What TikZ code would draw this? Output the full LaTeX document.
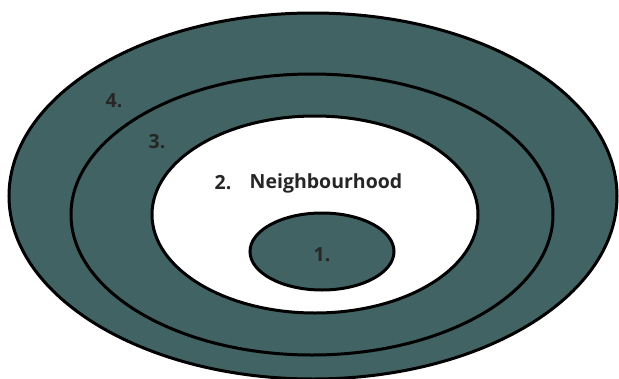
\documentclass[tikz,border=0pt]{standalone}
\usepackage{fontspec}
\setmainfont{Open Sans}
\usetikzlibrary{shapes.geometric}
\definecolor{teal1}{RGB}{65,99,100}
\begin{document}
\begin{tikzpicture}[x=1pt,y=-1pt,
  ring/.style={ellipse, draw=black, line width=3pt, inner sep=0pt},
  lbl/.style={font=\fontsize{19.5}{22}\selectfont\bfseries, text=black!85, inner sep=0pt}]
\useasboundingbox (0,0) rectangle (619,378);
\begin{scope}
\clip (0,0) rectangle (619,378);
\node[ring, fill=teal1, minimum width=608pt, minimum height=366pt] (r4) at (313,196) {};
\node[ring, fill=teal1, minimum width=482pt, minimum height=281pt] (r3) at (312,214.5) {};
\node[ring, fill=white, minimum width=326pt, minimum height=197pt] (r2) at (315,214.5) {};
\node[ring, fill=teal1, minimum width=144pt, minimum height=77pt] (r1) at (322,251.5) {};
\end{scope}
\node[lbl] (t4) at (114,101) {4.};
\node[lbl] (t3) at (157,142) {3.};
\node[lbl] (t2) at (223,183) {2.};
\node[lbl] (tn) at (326,183) {Neighbourhood};
\node[lbl] (t1) at (322,255) {1.};
\end{tikzpicture}
\end{document}
